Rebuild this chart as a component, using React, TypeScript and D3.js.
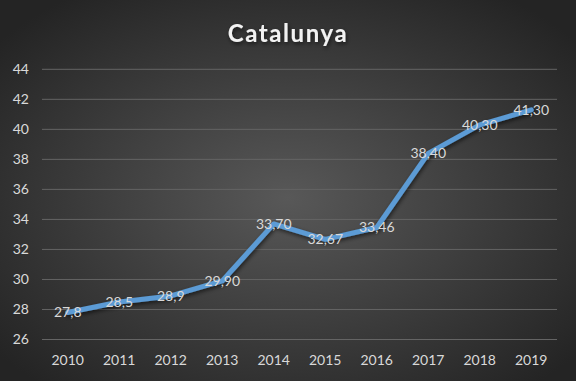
import React from "react";
import * as d3 from "d3";

const years = ["2010", "2011", "2012", "2013", "2014", "2015", "2016", "2017", "2018", "2019"];
const values = [27.8, 28.5, 28.9, 29.9, 33.7, 32.67, 33.46, 38.4, 40.3, 41.3];
const valueLabels = ["27,8", "28,5", "28,9", "29,90", "33,70", "32,67", "33,46", "38,40", "40,30", "41,30"];
const yTicks = [26, 28, 30, 32, 34, 36, 38, 40, 42, 44];
const title = "Catalunya";

const W = 576;
const H = 381;
const left = 42;
const right = 557;
const top = 69.3;
const bottom = 339.5;
const font = "Lato, 'Open Sans', sans-serif";

export default function App() {
  const x = d3.scaleBand<string>().domain(years).range([left, right]);
  const y = d3.scaleLinear().domain([26, 44]).range([bottom, top]);
  const line = d3
    .line<number>()
    .x((_, i) => (x(years[i]) as number) + x.bandwidth() / 2)
    .y((d) => y(d));

  return (
    <svg
      width={W}
      height={H}
      style={{ position: "absolute", left: 0, top: 0, display: "block" }}
    >
      <defs>
        <radialGradient id="bg" cx="50%" cy="52%" r="65%">
          <stop offset="0%" stopColor="#585858" />
          <stop offset="100%" stopColor="#242424" />
        </radialGradient>
        <filter id="shadow" x="-10%" y="-10%" width="120%" height="130%">
          <feGaussianBlur in="SourceAlpha" stdDeviation="2" />
          <feOffset dx="1" dy="2" result="b" />
          <feComponentTransfer>
            <feFuncA type="linear" slope="0.6" />
          </feComponentTransfer>
          <feMerge>
            <feMergeNode />
            <feMergeNode in="SourceGraphic" />
          </feMerge>
        </filter>
      </defs>
      <rect x={0} y={0} width={W} height={H} fill="url(#bg)" />
      <text
        x={288}
        y={42}
        textAnchor="middle"
        fill="#f2f2f2"
        fontFamily={font}
        fontWeight="bold"
        fontSize={24}
        letterSpacing={1.6}
        filter="url(#shadow)"
      >
        {title}
      </text>
      {yTicks.map((t) => (
        <g key={t}>
          <line x1={left} x2={right} y1={y(t)} y2={y(t)} stroke="#646464" strokeWidth={1} />
          <text
            x={29}
            y={y(t)}
            dy="0.35em"
            textAnchor="end"
            fill="#d9d9d9"
            fontFamily={font}
            fontSize={14}
          >
            {t}
          </text>
        </g>
      ))}
      {years.map((yr) => (
        <text
          key={yr}
          x={(x(yr) as number) + x.bandwidth() / 2}
          y={360}
          dy="0.35em"
          textAnchor="middle"
          fill="#d9d9d9"
          fontFamily={font}
          fontSize={14}
        >
          {yr}
        </text>
      ))}
      <path
        d={line(values) || ""}
        fill="none"
        stroke="#5b9bd5"
        strokeWidth={5}
        strokeLinejoin="round"
        strokeLinecap="round"
        filter="url(#shadow)"
      />
      {values.map((v, i) => (
        <text
          key={i}
          x={(x(years[i]) as number) + x.bandwidth() / 2}
          y={y(v)}
          dy="0.35em"
          textAnchor="middle"
          fill="#d9d9d9"
          fontFamily={font}
          fontSize={14}
        >
          {valueLabels[i]}
        </text>
      ))}
    </svg>
  );
}
